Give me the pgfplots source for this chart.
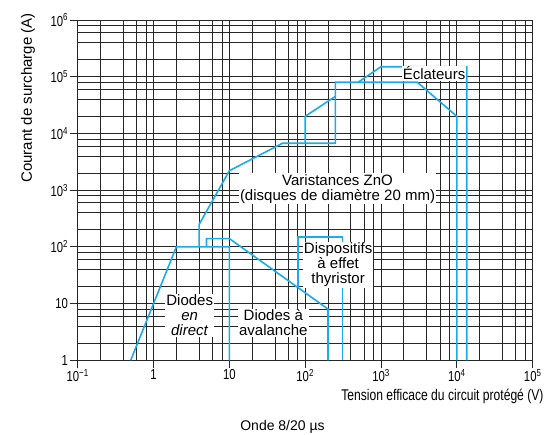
\documentclass[border=0pt]{standalone}
\usepackage{fontspec}
\setmainfont{Liberation Sans}
\newfontfamily\condensed{Liberation Sans}[FakeStretch=0.78]
\usepackage{pgfplots}
\pgfplotsset{compat=1.18}
\definecolor{zcyan}{RGB}{25,172,232}
\tikzset{
  curve/.style={zcyan, line width=1.6pt, line join=miter},
  lbl/.style={fill=white, inner sep=1pt, font=\fontsize{15}{15}\selectfont, align=center},
}
\newcommand{\tk}{\condensed\fontsize{14.5}{14.5}\selectfont}
\begin{document}
\begin{tikzpicture}
\begin{axis}[
  xmode=log, ymode=log,
  scale only axis, width=455pt, height=340.3pt,
  xmin=0.1, xmax=1e5, ymin=1, ymax=1e6,
  clip=false,
  xtick={0.1,1,10,100,1000,10000,100000},
  xticklabels={10\textsuperscript{−1},1,10,10\textsuperscript{2},10\textsuperscript{3},10\textsuperscript{4},10\textsuperscript{5}},
  ytick={1,10,100,1000,10000,100000,1000000},
  yticklabels={1,10,10\textsuperscript{2},10\textsuperscript{3},10\textsuperscript{4},10\textsuperscript{5},10\textsuperscript{6}},
  minor xtick={0.2,0.4,0.6,0.8,2,4,6,8,20,40,60,80,200,400,600,800,2000,4000,6000,8000,20000,40000,60000,80000},
  minor ytick={2,4,6,8,20,40,60,80,200,400,600,800,2000,4000,6000,8000,20000,40000,60000,80000,200000,400000,600000,800000},
  grid=both,
  major grid style={black!85, line width=0.8pt},
  minor grid style={black!85, line width=0.8pt},
  axis line style={black!85, line width=0.8pt},
  tick align=outside, tick pos=left,
  major tick length=8pt, minor tick length=0pt,
  tick style={black!85, line width=0.8pt},
  xticklabel style={font=\tk, inner sep=1pt},
  yticklabel style={font=\tk, inner sep=1.5pt},
  xlabel={Tension efficace du circuit protégé (V)},
  xlabel style={font=\condensed\fontsize{15.5}{15.5}\selectfont, at={(axis description cs:1.0314,-0.107)}, anchor=east},
  ylabel={Courant de surcharge (A)},
  ylabel style={font=\fontsize{15}{15}\selectfont, at={(axis description cs:-0.1092,0.7708)}, anchor=center},
]
% Diodes en direct
\addplot[curve] coordinates {(0.5,1) (2,100) (10,100) (10,1)};
% Diodes a avalanche
\addplot[curve] coordinates {(5,100) (5,140) (10,140) (200,8) (200,1)};
% Dispositifs a effet thyristor
\addplot[curve] coordinates {(80,19) (80,150) (310,150) (310,1)};
% Varistances ZnO
\addplot[curve] coordinates {(4,100) (4,250) (10,2200) (50,6700) (250,6700) (250,80000) (3000,80000) (10000,20000) (10000,1)};
% Eclateurs
\addplot[curve] coordinates {(100,6700) (100,20000) (250,45000)};
\addplot[curve] coordinates {(500,80000) (1000,150000) (13500,150000) (13500,1)};

\node[lbl] at (axis cs:267,1050) {Varistances ZnO\\(disques de diamètre 20 mm)};
\node[lbl, anchor=base] at (axis cs:5000,87900) {Éclateurs};
\node[lbl] at (axis cs:272,48) {Dispositifs\\à effet\\thyristor};
\node[lbl] at (axis cs:3.0,6.2) {Diodes\\\textit{en}\\\textit{direct}};
\node[lbl] at (axis cs:38,4.6) {Diodes à\\avalanche};
\node[font=\fontsize{14}{14}\selectfont] at (axis description cs:0.4501,-0.1951) {Onde 8/20 µs};
\end{axis}
\pgfresetboundingbox
\path[use as bounding box] ([xshift=-77.7pt,yshift=-73.7pt]current axis.south west) rectangle ([xshift=15.3pt,yshift=20pt]current axis.north east);
\end{tikzpicture}
\end{document}
